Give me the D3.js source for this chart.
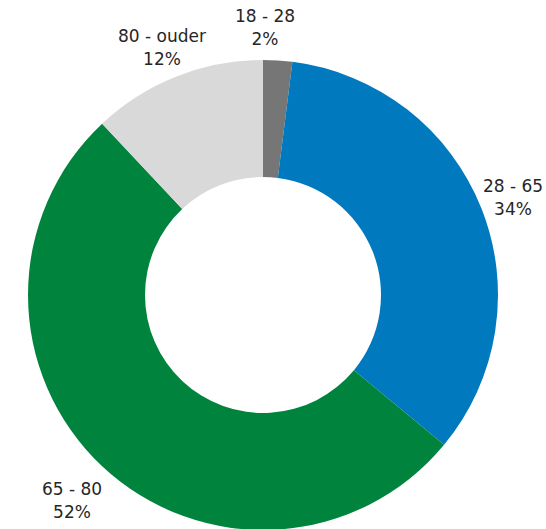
<!DOCTYPE html>
<html>
<head>
<meta charset="utf-8">
<script src="https://cdn.jsdelivr.net/npm/d3@7"></script>
<style>
  body { margin: 0; background: #fff; }
  svg { display: block; font-family: "Century Gothic", "DejaVu Sans", sans-serif; }
</style>
</head>
<body>
<script>
const categories = ["18 - 28", "28 - 65", "65 - 80", "80 - ouder"];
const values = [2, 34, 52, 12];
const colors = ["#767676", "#0079be", "#00843d", "#d9d9d9"];

const width = 546, height = 529;
const cx = 263, cy = 295, outerR = 235, innerR = 118;

const svg = d3.select("body").append("svg")
  .attr("width", width)
  .attr("height", height);

const pie = d3.pie().sort(null).value(d => d.value);
const arc = d3.arc().innerRadius(innerR).outerRadius(outerR);

const data = categories.map((c, i) => ({name: c, value: values[i], color: colors[i]}));
const arcs = pie(data);

const g = svg.append("g").attr("transform", `translate(${cx},${cy})`);

g.selectAll("path")
  .data(arcs)
  .join("path")
  .attr("d", arc)
  .attr("fill", d => d.data.color);

// label positions (centre of first line)
const labelPos = [[265, 16], [513, 186], [72, 489], [162, 36]];

const labels = svg.append("g")
  .selectAll("text")
  .data(arcs)
  .join("text")
  .attr("x", (d, i) => labelPos[i][0])
  .attr("y", (d, i) => labelPos[i][1])
  .attr("text-anchor", "middle")
  .attr("font-size", 17)
  .attr("fill", "#262626");

labels.append("tspan")
  .attr("x", (d, i) => labelPos[i][0])
  .attr("dy", "0.35em")
  .text(d => d.data.name);

labels.append("tspan")
  .attr("x", (d, i) => labelPos[i][0])
  .attr("dy", "1.35em")
  .text(d => d.data.value + "%");
</script>
</body>
</html>
